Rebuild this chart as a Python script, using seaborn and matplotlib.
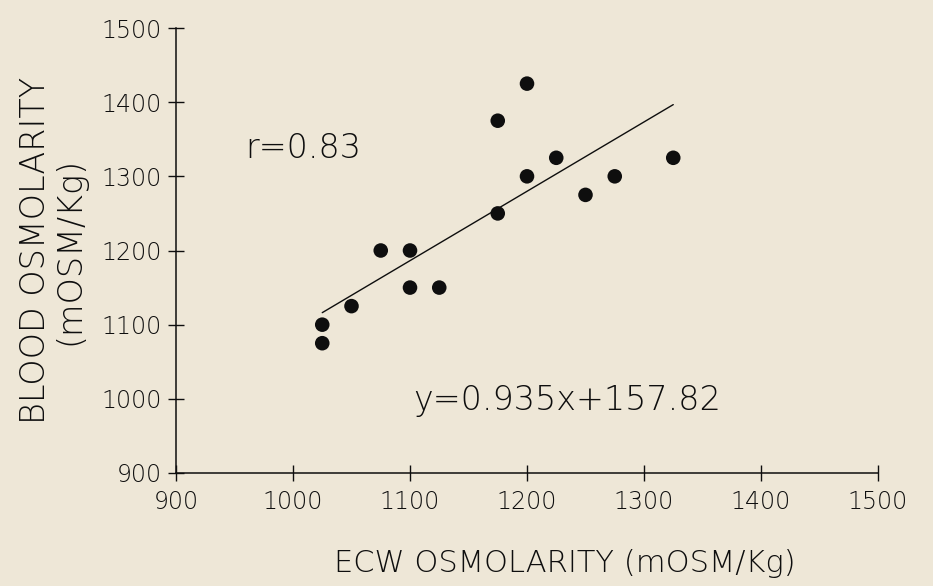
import numpy as np
import pandas as pd
import seaborn as sns

from matplotlib import pyplot as plt

# measured points (ECW vs blood osmolarity)
ECW_OSM = [1025, 1025, 1050, 1075, 1100, 1100, 1125, 1175, 1175,
           1200, 1200, 1225, 1250, 1275, 1325]
BLOOD_OSM = [1100, 1075, 1125, 1200, 1200, 1150, 1150, 1375, 1250,
             1425, 1300, 1325, 1275, 1300, 1325]

# fit given on the chart
SLOPE = 0.935
INTERCEPT = 157.82
R_VALUE = 0.83

X_TICKS = [900, 1000, 1100, 1200, 1300, 1400, 1500]
Y_TICKS = [900, 1000, 1100, 1200, 1300, 1400, 1500]

BG = '#eee7d7'
INK = '#0e0e0e'


def main():
    sns.set_theme(style='ticks', rc={
        'figure.facecolor': BG,
        'axes.facecolor': BG,
        'axes.edgecolor': INK,
        'axes.linewidth': 1.1,
        'text.color': INK,
        'axes.labelcolor': INK,
        'xtick.color': INK,
        'ytick.color': INK,
    })
    plt.rcParams['font.family'] = ['DejaVu Sans']
    plt.rcParams['font.weight'] = 'light'
    plt.rcParams['axes.labelweight'] = 'light'

    df = pd.DataFrame({'ECW': ECW_OSM, 'BLOOD': BLOOD_OSM})

    fig = plt.figure(figsize=(9.33, 5.86), dpi=100)
    ax = fig.add_axes([176 / 933, 1 - 473 / 586, 702 / 933, 445 / 586])

    sns.scatterplot(x='ECW', y='BLOOD', data=df, color=INK, s=110,
                    edgecolor='none', ax=ax, zorder=3)

    # regression line over the range of the data
    fit = pd.DataFrame({'ECW': [df.ECW.min(), df.ECW.max()]})
    fit['BLOOD'] = SLOPE * fit['ECW'] + INTERCEPT
    sns.lineplot(x='ECW', y='BLOOD', data=fit, color=INK, linewidth=1.0,
                 ax=ax, legend=False)

    ax.set_xlim(900, 1500)
    ax.set_ylim(900, 1500)
    ax.set_xticks(X_TICKS)
    ax.set_yticks(Y_TICKS)
    ax.tick_params(direction='inout', length=11, width=1.0, labelsize=17)
    ax.tick_params(axis='y', pad=5)
    ax.tick_params(axis='x', pad=7)
    sns.despine(ax=ax)

    ax.set_xlabel('ECW OSMOLARITY (mOSM/Kg)', fontsize=22)
    ax.xaxis.set_label_coords(0.554, -0.17)
    ax.set_ylabel('BLOOD OSMOLARITY\n(mOSM/Kg)', fontsize=24, linespacing=1.05)
    ax.yaxis.set_label_coords(-0.128, 0.5)

    ax.text(0.098, 0.73, f'r={R_VALUE:.2f}', transform=ax.transAxes,
            fontsize=24, va='center', ha='left')
    ax.text(0.338, 0.164, f'y={SLOPE}x+{INTERCEPT}', transform=ax.transAxes,
            fontsize=24, va='center', ha='left')

    fig.savefig('out.png', dpi=100, facecolor=BG)


if __name__ == '__main__':
    main()
